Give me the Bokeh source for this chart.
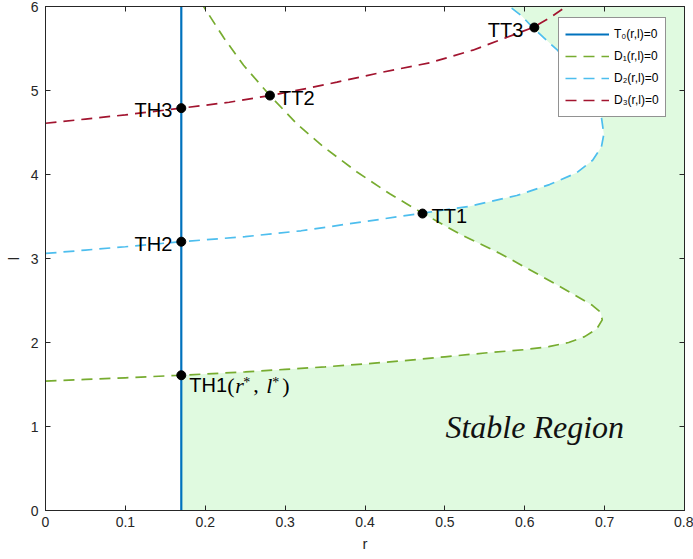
from bokeh.plotting import figure
from bokeh.models import (Range1d, LinearAxis, Label, Legend, LegendItem, FixedTicker,
                          CustomLabelingPolicy)
from bokeh.embed import file_html
from bokeh.resources import INLINE

# ---------------- data ----------------
r_min, r_max = 0.0, 0.8
l_min, l_max = 0.0, 6.0
r_ticks = [0, 0.1, 0.2, 0.3, 0.4, 0.5, 0.6, 0.7, 0.8]
r_tick_labels = ["0", "0.1", "0.2", "0.3", "0.4", "0.5", "0.6", "0.7", "0.8"]
l_ticks = [0, 1, 2, 3, 4, 5, 6]
l_tick_labels = ["0", "1", "2", "3", "4", "5", "6"]

# T0(r,l)=0 : vertical line
t0_r = 0.17

# D1(r,l)=0 : lower branch -> nose -> upper branch
d1_r = [0.0, 0.05, 0.10, 0.17, 0.25, 0.30, 0.35, 0.40, 0.45, 0.50, 0.55, 0.60, 0.63,
        0.655, 0.675, 0.690, 0.697, 0.695, 0.685, 0.660, 0.619, 0.569, 0.519, 0.472,
        0.431, 0.390, 0.348, 0.315, 0.281, 0.248, 0.223, 0.198]
d1_l = [1.54, 1.56, 1.58, 1.61, 1.65, 1.68, 1.71, 1.745, 1.785, 1.83, 1.875, 1.915, 1.95,
        2.00, 2.07, 2.16, 2.27, 2.36, 2.44, 2.58, 2.80, 3.06, 3.29, 3.54,
        3.77, 4.03, 4.33, 4.60, 4.94, 5.30, 5.63, 6.0]

# D2(r,l)=0
d2_r = [0.0, 0.05, 0.10, 0.17, 0.25, 0.32, 0.40, 0.472, 0.53, 0.59, 0.631, 0.665, 0.685,
        0.696, 0.699, 0.696, 0.685, 0.662, 0.641, 0.627, 0.61, 0.596, 0.581]
d2_l = [3.06, 3.10, 3.14, 3.20, 3.26, 3.33, 3.44, 3.54, 3.62, 3.75, 3.88, 4.02, 4.17,
        4.33, 4.48, 4.68, 4.95, 5.25, 5.48, 5.60, 5.75, 5.89, 6.0]

# D3(r,l)=0
d3_r = [0.0, 0.05, 0.10, 0.17, 0.23, 0.281, 0.33, 0.365, 0.423, 0.481, 0.535, 0.577,
        0.61, 0.632, 0.652]
d3_l = [4.61, 4.66, 4.71, 4.79, 4.86, 4.94, 5.03, 5.10, 5.22, 5.33, 5.48, 5.63,
        5.75, 5.87, 6.0]

# marked points
pt_names = ["TH1", "TH2", "TH3", "TT1", "TT2", "TT3"]
pt_r = [0.17, 0.17, 0.17, 0.472, 0.281, 0.612]
pt_l = [1.61, 3.20, 4.79, 3.535, 4.94, 5.75]

# ---------------- styles ----------------
C_T0 = "#0072BD"
C_D1 = "#77AC30"
C_D2 = "#4DBEEE"
C_D3 = "#A2142F"
C_FILL = "#E0FAE0"
AX = "#262626"
SANS = "Liberation Sans"
SERIF = "Liberation Serif"

p = figure(width=693, height=559, output_backend="svg", toolbar_location=None,
           x_range=Range1d(r_min, r_max), y_range=Range1d(l_min, l_max),
           min_border_left=45, min_border_right=9, min_border_top=6,
           min_border_bottom=49, x_axis_label="r", y_axis_label="l")
p.grid.visible = False
p.outline_line_color = AX
p.background_fill_color = "white"
p.border_fill_color = "white"

bx = p.below[0]
ly = p.left[0]

# stable region fill
p.quad(left=t0_r, right=r_max, bottom=l_min, top=l_max, fill_color=C_FILL,
       line_color=None)
# unstable interiors (white)
p.patch(x=d1_r + [r_min], y=d1_l + [l_max], fill_color="white", line_color=None)
p.patch(x=d2_r + [r_min], y=d2_l + [l_max], fill_color="white", line_color=None)

lw = 1.7
dash = "11 7"
rt0 = p.line(x=[t0_r, t0_r], y=[l_min, l_max], line_color=C_T0, line_width=2.2)
rd1 = p.line(x=d1_r, y=d1_l, line_color=C_D1, line_width=lw, line_dash=dash)
rd2 = p.line(x=d2_r, y=d2_l, line_color=C_D2, line_width=lw, line_dash=dash)
rd3 = p.line(x=d3_r, y=d3_l, line_color=C_D3, line_width=lw, line_dash=dash)

p.scatter(x=pt_r, y=pt_l, size=9, color="black")

# point labels
lab_style = {
    "TH1": ("left", 8, -10, "alphabetic"),
    "TH2": ("right", -9, -2, "middle"),
    "TH3": ("right", -9, -2, "middle"),
    "TT1": ("left", 9, -2, "middle"),
    "TT2": ("left", 9, -2, "middle"),
    "TT3": ("right", -11, -2, "middle"),
}
for name, x, y in zip(pt_names, pt_r, pt_l):
    al, dx, dy, bl = lab_style[name]
    p.add_layout(Label(x=x, y=y, text=name, x_offset=dx, y_offset=dy,
                       text_align=al, text_baseline=bl, text_font=SANS,
                       text_font_size="20px", text_color="black"))

# (r*, l*) math part after TH1
i1 = pt_names.index("TH1")
math_parts = [("(", 46, 0, "normal", "22px"), ("r", 54, 0, "italic", "22px"),
              ("*", 62, 3, "normal", "14px"), (",", 72, 0, "normal", "22px"),
              ("l", 85, 0, "italic", "22px"), ("*", 91, 3, "normal", "14px"),
              (")", 101, 0, "normal", "22px")]
for t, dx, dy, st, fs in math_parts:
    p.add_layout(Label(x=pt_r[i1], y=pt_l[i1], text=t, x_offset=dx, y_offset=-10 + dy,
                       text_align="left", text_baseline="alphabetic", text_font=SERIF,
                       text_font_style=st, text_font_size=fs, text_color="black"))

p.add_layout(Label(x=0.6125, y=1.0, text="Stable Region", text_align="center",
                   text_baseline="middle", text_font=SERIF, text_font_style="italic",
                   text_font_size="32px", text_color="#111111"))

# axes
bx.ticker = FixedTicker(ticks=r_ticks)
ly.ticker = FixedTicker(ticks=l_ticks)
bx.major_label_overrides = dict(zip(r_ticks, r_tick_labels))
ly.major_label_overrides = dict(zip(l_ticks, l_tick_labels))

no_labels = CustomLabelingPolicy(
    code="for (let i = 0; i < indices.size; i++) { indices.unset(i) } return indices")
top = LinearAxis(ticker=FixedTicker(ticks=r_ticks), major_label_policy=no_labels,
                 major_label_standoff=0)
right = LinearAxis(ticker=FixedTicker(ticks=l_ticks), major_label_policy=no_labels,
                   major_label_standoff=0)
p.add_layout(top, "above")
p.add_layout(right, "right")

for ax in [bx, ly, top, right]:
    ax.major_tick_in = 5
    ax.major_tick_out = 0
    ax.minor_tick_in = 0
    ax.minor_tick_out = 0
    ax.axis_line_color = AX
    ax.major_tick_line_color = AX
    ax.major_label_text_font = SANS
    ax.major_label_text_color = AX
    ax.axis_label_text_font = SANS
    ax.axis_label_text_font_size = "15px"
    ax.axis_label_text_font_style = "normal"
    ax.axis_label_text_color = AX
bx.major_label_text_font_size = "14px"
ly.major_label_text_font_size = "14px"
top.major_label_text_font_size = "0px"
right.major_label_text_font_size = "0px"
bx.major_label_standoff = 6
ly.major_label_standoff = 7
bx.axis_label_standoff = 5
ly.axis_label_standoff = 6

legend = Legend(items=[LegendItem(label="T\u2080(r,l)=0", renderers=[rt0]),
                       LegendItem(label="D\u2081(r,l)=0", renderers=[rd1]),
                       LegendItem(label="D\u2082(r,l)=0", renderers=[rd2]),
                       LegendItem(label="D\u2083(r,l)=0", renderers=[rd3])],
                location=(513, 393), padding=6, spacing=2, margin=0,
                glyph_width=44, glyph_height=20, label_height=20, label_standoff=5,
                label_text_font=SANS, label_text_font_size="12px",
                label_text_color="black", border_line_color=AX,
                border_line_width=0.6, background_fill_color="white",
                background_fill_alpha=1.0)
p.add_layout(legend)

open("out.html", "w").write(file_html(p, INLINE))
